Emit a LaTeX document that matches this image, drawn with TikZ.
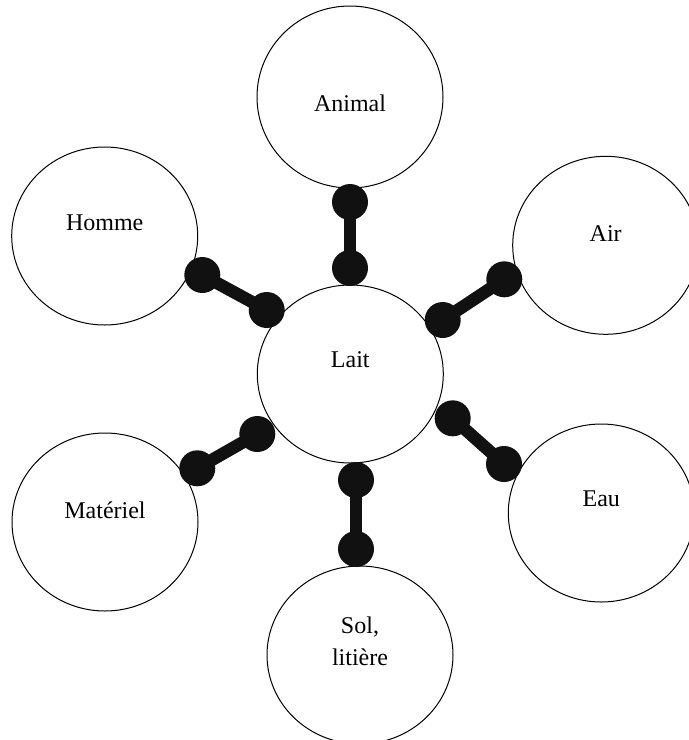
\documentclass[tikz,border=0pt]{standalone}
\usepackage{fontspec}
\setmainfont{Liberation Serif}
\usetikzlibrary{shapes.geometric}
\definecolor{knobfill}{HTML}{111111}
\begin{document}
\begin{tikzpicture}[x=1pt,y=-1pt,
  bubble/.style={draw=black, line width=1pt, ellipse, minimum width=186pt,
                 minimum height=178pt, inner sep=0pt},
  caption/.style={font=\fontsize{24}{32}\selectfont, align=center, inner sep=0pt},
  knob/.style={circle, fill=knobfill, minimum size=36pt, inner sep=0pt},
  rod/.style={draw=knobfill, line width=12.5pt}]
\useasboundingbox (0,0) rectangle (689,740);
\clip (0,0) rectangle (689,740);

% the seven bubbles
\node[bubble] (lait)     at (350.3,374) {};
\node[bubble, minimum height=182pt] (animal) at (350,97) {};
\node[bubble] (homme)    at (104.7,236) {};
\node[bubble] (air)      at (605.7,245.3) {};
\node[bubble] (materiel) at (105,522) {};
\node[bubble] (eau)      at (601.3,513) {};
\node[bubble] (sol)      at (360,655) {};

% their captions
\node[caption] (lait-t)     at ([yshift=14pt]lait.center)     {Lait};
\node[caption] (animal-t)   at ([yshift=-6pt]animal.center)   {Animal};
\node[caption] (homme-t)    at ([yshift=13pt]homme.center)    {Homme};
\node[caption] (air-t)      at ([yshift=12pt]air.center)      {Air};
\node[caption] (materiel-t) at ([yshift=12pt]materiel.center) {Matériel};
\node[caption] (eau-t)      at ([yshift=14pt]eau.center)      {Eau};
\node[caption] (sol-t)      at ([yshift=14pt]sol.center)      {Sol,\\litière};

% dumbbell links: two knobs joined by a rod
\node[knob] (an1) at (350,202) {};
\node[knob] (an2) at (350,268) {};
\node[knob] (ho1) at (202.3,275) {};
\node[knob] (ho2) at (266.7,310) {};
\node[knob] (ai1) at (504.3,279.3) {};
\node[knob] (ai2) at (442.7,320) {};
\node[knob] (ma1) at (257.3,434) {};
\node[knob] (ma2) at (197.3,468.3) {};
\node[knob] (ea1) at (452.7,418.3) {};
\node[knob] (ea2) at (504,464) {};
\node[knob] (so1) at (356,480) {};
\node[knob] (so2) at (356,549) {};

\draw[rod] (an1.center) -- (an2.center);
\draw[rod] (ho1.center) -- (ho2.center);
\draw[rod] (ai1.center) -- (ai2.center);
\draw[rod] (ma1.center) -- (ma2.center);
\draw[rod] (ea1.center) -- (ea2.center);
\draw[rod] (so1.center) -- (so2.center);
\end{tikzpicture}
\end{document}
